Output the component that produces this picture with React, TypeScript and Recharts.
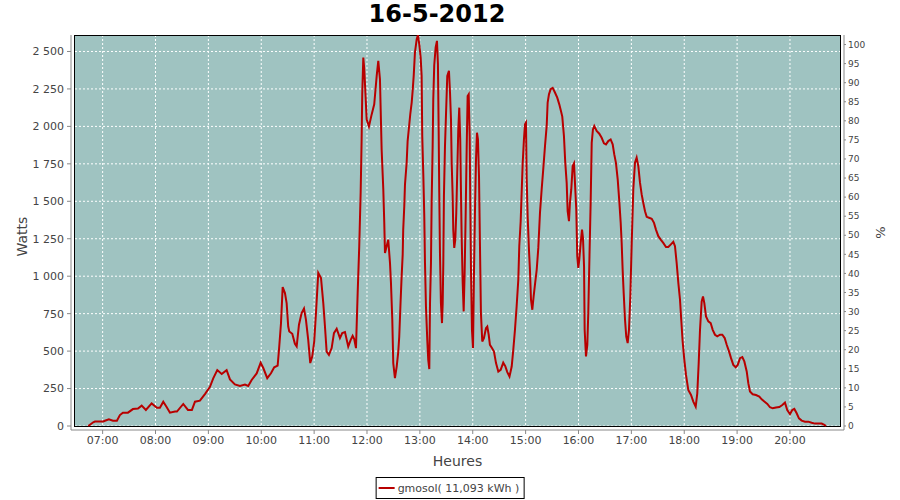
import { LineChart, Line, XAxis, YAxis, CartesianGrid, ReferenceArea } from 'recharts';

// time of each sample, in minutes after midnight
const minutes = [
  403.7, 409.3, 411.3, 420.7, 422.6, 427.1, 431.7, 436.2, 439.6, 443.0, 448.7, 454.4, 460.1, 464.3, 469.1,
  475.6, 481.6, 485.0, 488.8, 492.6, 496.4, 502.1, 504.3, 511.5, 516.8, 521.3, 524.8, 530.4, 536.1, 541.8,
  545.5, 550.1, 555.1, 560.7, 564.5, 570.1, 575.8, 581.5, 585.2, 589.1, 594.8, 599.3, 602.3, 606.8, 611.0,
  614.7, 618.6, 620.1, 622.4, 624.3, 626.9, 628.8, 630.6, 631.8, 635.2, 638.2, 640.2, 642.8, 645.8, 648.5,
  650.7, 653.3, 655.6, 657.9, 660.1, 662.1, 664.7, 667.8, 670.4, 672.3, 674.2, 676.8, 679.9, 682.5, 685.6,
  689.3, 691.9, 695.0, 698.7, 701.5, 703.7, 705.5, 707.5, 709.4, 711.2, 712.8, 713.9, 714.6, 715.8, 716.9,
  718.0, 719.6, 722.2, 725.3, 728.2, 731.0, 732.8, 734.7, 736.6, 738.5, 739.6, 740.4, 742.3, 744.1, 746.1,
  747.2, 748.7, 749.8, 751.7, 753.7, 755.5, 756.6, 758.2, 759.3, 760.5, 761.1, 762.3, 763.1, 765.0, 766.1,
  767.6, 769.1, 770.7, 771.8, 773.0, 774.4, 776.4, 777.8, 779.3, 780.9, 782.0, 782.7, 783.9, 785.0, 785.8,
  786.9, 788.4, 789.5, 790.7, 791.5, 792.6, 793.4, 794.5, 795.2, 796.3, 797.9, 799.4, 800.5, 801.3, 802.0,
  802.8, 803.9, 805.1, 805.9, 806.6, 807.3, 808.5, 809.6, 811.1, 813.0, 814.2, 815.3, 816.1, 817.2, 817.9,
  819.0, 820.2, 821.3, 822.4, 823.6, 824.7, 825.8, 826.6, 827.4, 828.6, 829.7, 830.8, 832.0, 833.1, 834.2,
  835.4, 836.5, 837.2, 838.0, 839.1, 840.3, 841.4, 842.5, 843.7, 844.8, 845.9, 847.1, 848.2, 849.3, 850.8,
  852.7, 855.0, 856.5, 858.1, 859.5, 861.8, 864.1, 866.4, 869.0, 871.7, 874.6, 876.9, 879.2, 881.7, 884.2,
  886.0, 887.9, 889.8, 891.7, 892.8, 894.4, 895.5, 896.7, 898.1, 899.3, 900.4, 901.2, 902.3, 903.8, 904.9,
  906.1, 907.6, 909.1, 910.6, 912.6, 914.4, 916.3, 918.2, 920.0, 922.0, 923.9, 925.0, 926.5, 928.4, 930.7,
  933.3, 935.9, 938.2, 940.1, 941.6, 943.5, 945.0, 946.6, 947.7, 949.2, 950.3, 951.8, 953.4, 954.9, 956.0,
  957.5, 958.6, 959.8, 960.9, 962.5, 964.0, 965.1, 966.3, 967.0, 968.5, 970.0, 971.1, 972.7, 973.8, 975.0,
  976.4, 977.9, 980.6, 983.6, 986.3, 988.9, 991.2, 993.8, 996.5, 998.8, 1000.6, 1002.5, 1004.5, 1006.3, 1007.9,
  1009.0, 1010.1, 1011.3, 1012.8, 1014.2, 1015.8, 1017.3, 1018.8, 1020.4, 1022.2, 1024.1, 1026.0, 1027.9, 1029.8, 1031.7,
  1033.5, 1035.5, 1037.4, 1040.0, 1043.1, 1045.7, 1047.9, 1050.6, 1053.3, 1056.2, 1059.3, 1061.9, 1064.6, 1067.6, 1069.5,
  1071.4, 1073.3, 1075.2, 1076.6, 1078.2, 1080.1, 1082.0, 1084.6, 1087.7, 1090.3, 1093.0, 1094.8, 1096.4, 1097.9, 1099.8,
  1101.3, 1102.8, 1104.7, 1107.3, 1110.0, 1112.3, 1114.9, 1117.5, 1120.6, 1123.2, 1125.9, 1128.2, 1130.8, 1133.1, 1135.7,
  1138.4, 1140.7, 1143.3, 1145.9, 1148.2, 1150.9, 1152.7, 1154.6, 1157.7, 1161.4, 1165.2, 1167.9, 1170.9, 1174.3, 1177.3,
  1180.4, 1184.1, 1187.9, 1191.3, 1194.3, 1196.9, 1200.0, 1202.6, 1204.9, 1207.6, 1210.2, 1213.3, 1217.0, 1220.8, 1224.6,
  1228.4, 1232.1, 1236.0, 1239.0, 1240.9,
];

// power in watts at each sample
const watts = [
  0, 25, 30, 30, 35, 45, 35, 35, 73, 89, 89, 113, 117, 136, 107,
  151, 122, 122, 162, 127, 89, 96, 96, 147, 107, 107, 162, 169, 213, 262,
  318, 373, 347, 373, 311, 278, 267, 276, 267, 307, 351, 422, 387, 319, 352,
  392, 403, 507, 686, 927, 887, 820, 664, 631, 616, 549, 531, 676, 754, 784,
  710, 575, 420, 465, 564, 754, 1022, 988, 820, 664, 497, 475, 520, 620, 649,
  587, 620, 627, 531, 575, 602, 580, 520, 887, 1200, 1557, 1913, 2214, 2460, 2382,
  2248, 2047, 1999, 2080, 2147, 2337, 2437, 2315, 1847, 1579, 1356, 1155, 1200, 1244, 1088,
  955, 709, 420, 319, 397, 497, 597, 843, 999, 1144, 1311, 1467, 1612, 1757, 1902,
  1991, 2081, 2159, 2237, 2337, 2493, 2582, 2609, 2549, 2460, 2337, 1935, 1679, 1400, 1088,
  798, 575, 441, 380, 820, 1088, 1512, 1869, 2181, 2408, 2527, 2571, 2415, 1991, 1557,
  1155, 820, 687, 820, 1088, 1535, 1869, 2070, 2337, 2371, 2226, 2047, 1757, 1535, 1311,
  1189, 1244, 1423, 1690, 1980, 2125, 1913, 1579, 1266, 955, 765, 1022, 1423, 1847, 2203,
  2214, 1935, 1490, 1044, 642, 520, 1022, 1423, 1780, 1958, 1913, 1668, 1200, 754, 564,
  587, 653, 664, 609, 542, 520, 497, 420, 363, 375, 423, 400, 360, 330, 397,
  508, 642, 798, 976, 1200, 1367, 1557, 1757, 1913, 2014, 2025, 1657, 1400, 1177, 1044,
  843, 776, 865, 943, 1044, 1189, 1423, 1579, 1713, 1869, 2003, 2159, 2214, 2248, 2257,
  2226, 2192, 2147, 2103, 2065, 1935, 1757, 1623, 1434, 1367, 1490, 1579, 1735, 1753, 1623,
  1445, 1133, 1055, 1111, 1222, 1311, 1255, 1066, 642, 464, 542, 754, 1200, 1490, 1891,
  1980, 2003, 1969, 1951, 1924, 1887, 1880, 1902, 1913, 1880, 1813, 1757, 1646, 1501, 1356,
  1222, 1044, 887, 709, 597, 553, 642, 865, 1222, 1579, 1757, 1791, 1735, 1624, 1546,
  1490, 1434, 1396, 1390, 1383, 1356, 1311, 1267, 1244, 1222, 1195, 1195, 1211, 1229, 1200,
  1088, 955, 843, 709, 564, 441, 341, 241, 207, 163, 129, 218, 419, 642, 831,
  865, 820, 731, 698, 687, 642, 609, 598, 609, 609, 587, 542, 498, 453, 408,
  392, 408, 453, 460, 431, 364, 286, 230, 212, 207, 196, 178, 163, 147, 125,
  118, 123, 127, 140, 156, 107, 80, 107, 114, 85, 51, 36, 29, 29, 22,
  16, 16, 16, 7, 0,
];

const hourTicks = [420, 480, 540, 600, 660, 720, 780, 840, 900, 960, 1020, 1080, 1140, 1200];
const wattTicks = [0, 250, 500, 750, 1000, 1250, 1500, 1750, 2000, 2250, 2500];
const percentTicks = [0, 5, 10, 15, 20, 25, 30, 35, 40, 45, 50, 55, 60, 65, 70, 75, 80, 85, 90, 95, 100];

const data = minutes.map((t, i) => ({ t, w: watts[i] }));

const FONT = 'DejaVu Sans';
const AXIS = '#888';
const TEXT = '#444';

// plot frame (inside the axes, which sit 4px away like in JFreeChart)
const frameX = [388.6, 1256.8];
const frameY = [0, 2610];

const fmtHour = (m: number) =>
  `${String(Math.floor(m / 60)).padStart(2, '0')}:${String(m % 60).padStart(2, '0')}`;

const fmtWatt = (v: number) =>
  v >= 1000 ? `${Math.floor(v / 1000)} ${String(v % 1000).padStart(3, '0')}` : String(v);

const VerticalTitle = ({ viewBox, text, dx, dy = 0, size }: any) => {
  const vb = viewBox || { x: 0, y: 35, width: 0, height: 395 };
  const x = vb.x + dx;
  const y = vb.y + vb.height / 2 + dy;
  return (
    <text
      x={x}
      y={y}
      transform={`rotate(-90 ${x} ${y})`}
      textAnchor="middle"
      dominantBaseline="central"
      fontFamily={FONT}
      fontSize={size}
      fill={TEXT}
    >
      {text}
    </text>
  );
};

export default function App() {
  return (
    <div style={{ position: 'absolute', left: 0, top: 0, width: 900, height: 500, background: '#fff' }}>
      <div
        style={{
          position: 'absolute',
          top: 1,
          left: 0,
          width: 874,
          textAlign: 'center',
          fontFamily: FONT,
          fontWeight: 'bold',
          fontSize: 24,
          lineHeight: '27px',
          color: '#000',
        }}
      >
        16-5-2012
      </div>

      <LineChart width={900} height={500} data={data} margin={{ top: 35, right: 16, bottom: 30, left: 11 }}>
        <CartesianGrid
          x={75}
          y={35}
          width={765}
          height={391}
          yAxisId="w"
          fill="#9fc3c1"
          stroke="#fff"
          strokeDasharray="2 2"
        />
        <XAxis
          dataKey="t"
          type="number"
          domain={[384.1, 1261.3]}
          ticks={hourTicks}
          tickFormatter={fmtHour}
          allowDataOverflow
          height={40}
          tickSize={4}
          tickMargin={2}
          stroke={AXIS}
          tick={{ fontSize: 11, fill: TEXT, fontFamily: FONT }}
          label={{ value: 'Heures', position: 'insideBottom', offset: 4, fontSize: 14, fill: TEXT, fontFamily: FONT }}
        />
        <YAxis
          yAxisId="w"
          type="number"
          domain={[-26.7, 2610]}
          ticks={wattTicks}
          tickFormatter={fmtWatt}
          allowDataOverflow
          width={60}
          tickSize={4}
          tickMargin={3}
          stroke={AXIS}
          tick={{ fontSize: 11, fill: TEXT, fontFamily: FONT }}
          label={<VerticalTitle text="Watts" dx={11} dy={4} size={14} />}
        />
        <YAxis
          yAxisId="p"
          orientation="right"
          type="number"
          domain={[-1.05, 102.5]}
          ticks={percentTicks}
          allowDataOverflow
          width={40}
          tickSize={2}
          tickMargin={2}
          stroke={AXIS}
          tick={{ fontSize: 9, fill: TEXT, fontFamily: FONT }}
          label={<VerticalTitle text="%" dx={36} size={13} />}
        />
        <ReferenceArea
          yAxisId="w"
          x1={frameX[0]}
          x2={frameX[1]}
          y1={frameY[0]}
          y2={frameY[1]}
          fill="none"
          stroke="#000"
          strokeWidth={1}
          fillOpacity={0}
          shapeRendering="crispEdges"
        />
        <Line
          yAxisId="w"
          dataKey="w"
          name="gmosol( 11,093 kWh )"
          type="linear"
          stroke="#b80000"
          strokeWidth={2}
          dot={false}
          isAnimationActive={false}
        />
      </LineChart>

      <div
        style={{
          position: 'absolute',
          top: 477,
          left: '50%',
          transform: 'translateX(-50%)',
          height: 20,
          border: '1px solid #000',
          display: 'flex',
          alignItems: 'center',
          padding: '0 4px 0 2px',
          fontFamily: FONT,
          fontSize: 11,
          color: TEXT,
          whiteSpace: 'nowrap',
        }}
      >
        <span style={{ display: 'inline-block', width: 16, height: 2, background: '#b80000', marginRight: 3 }} />
        gmosol( 11,093 kWh )
      </div>
    </div>
  );
}
